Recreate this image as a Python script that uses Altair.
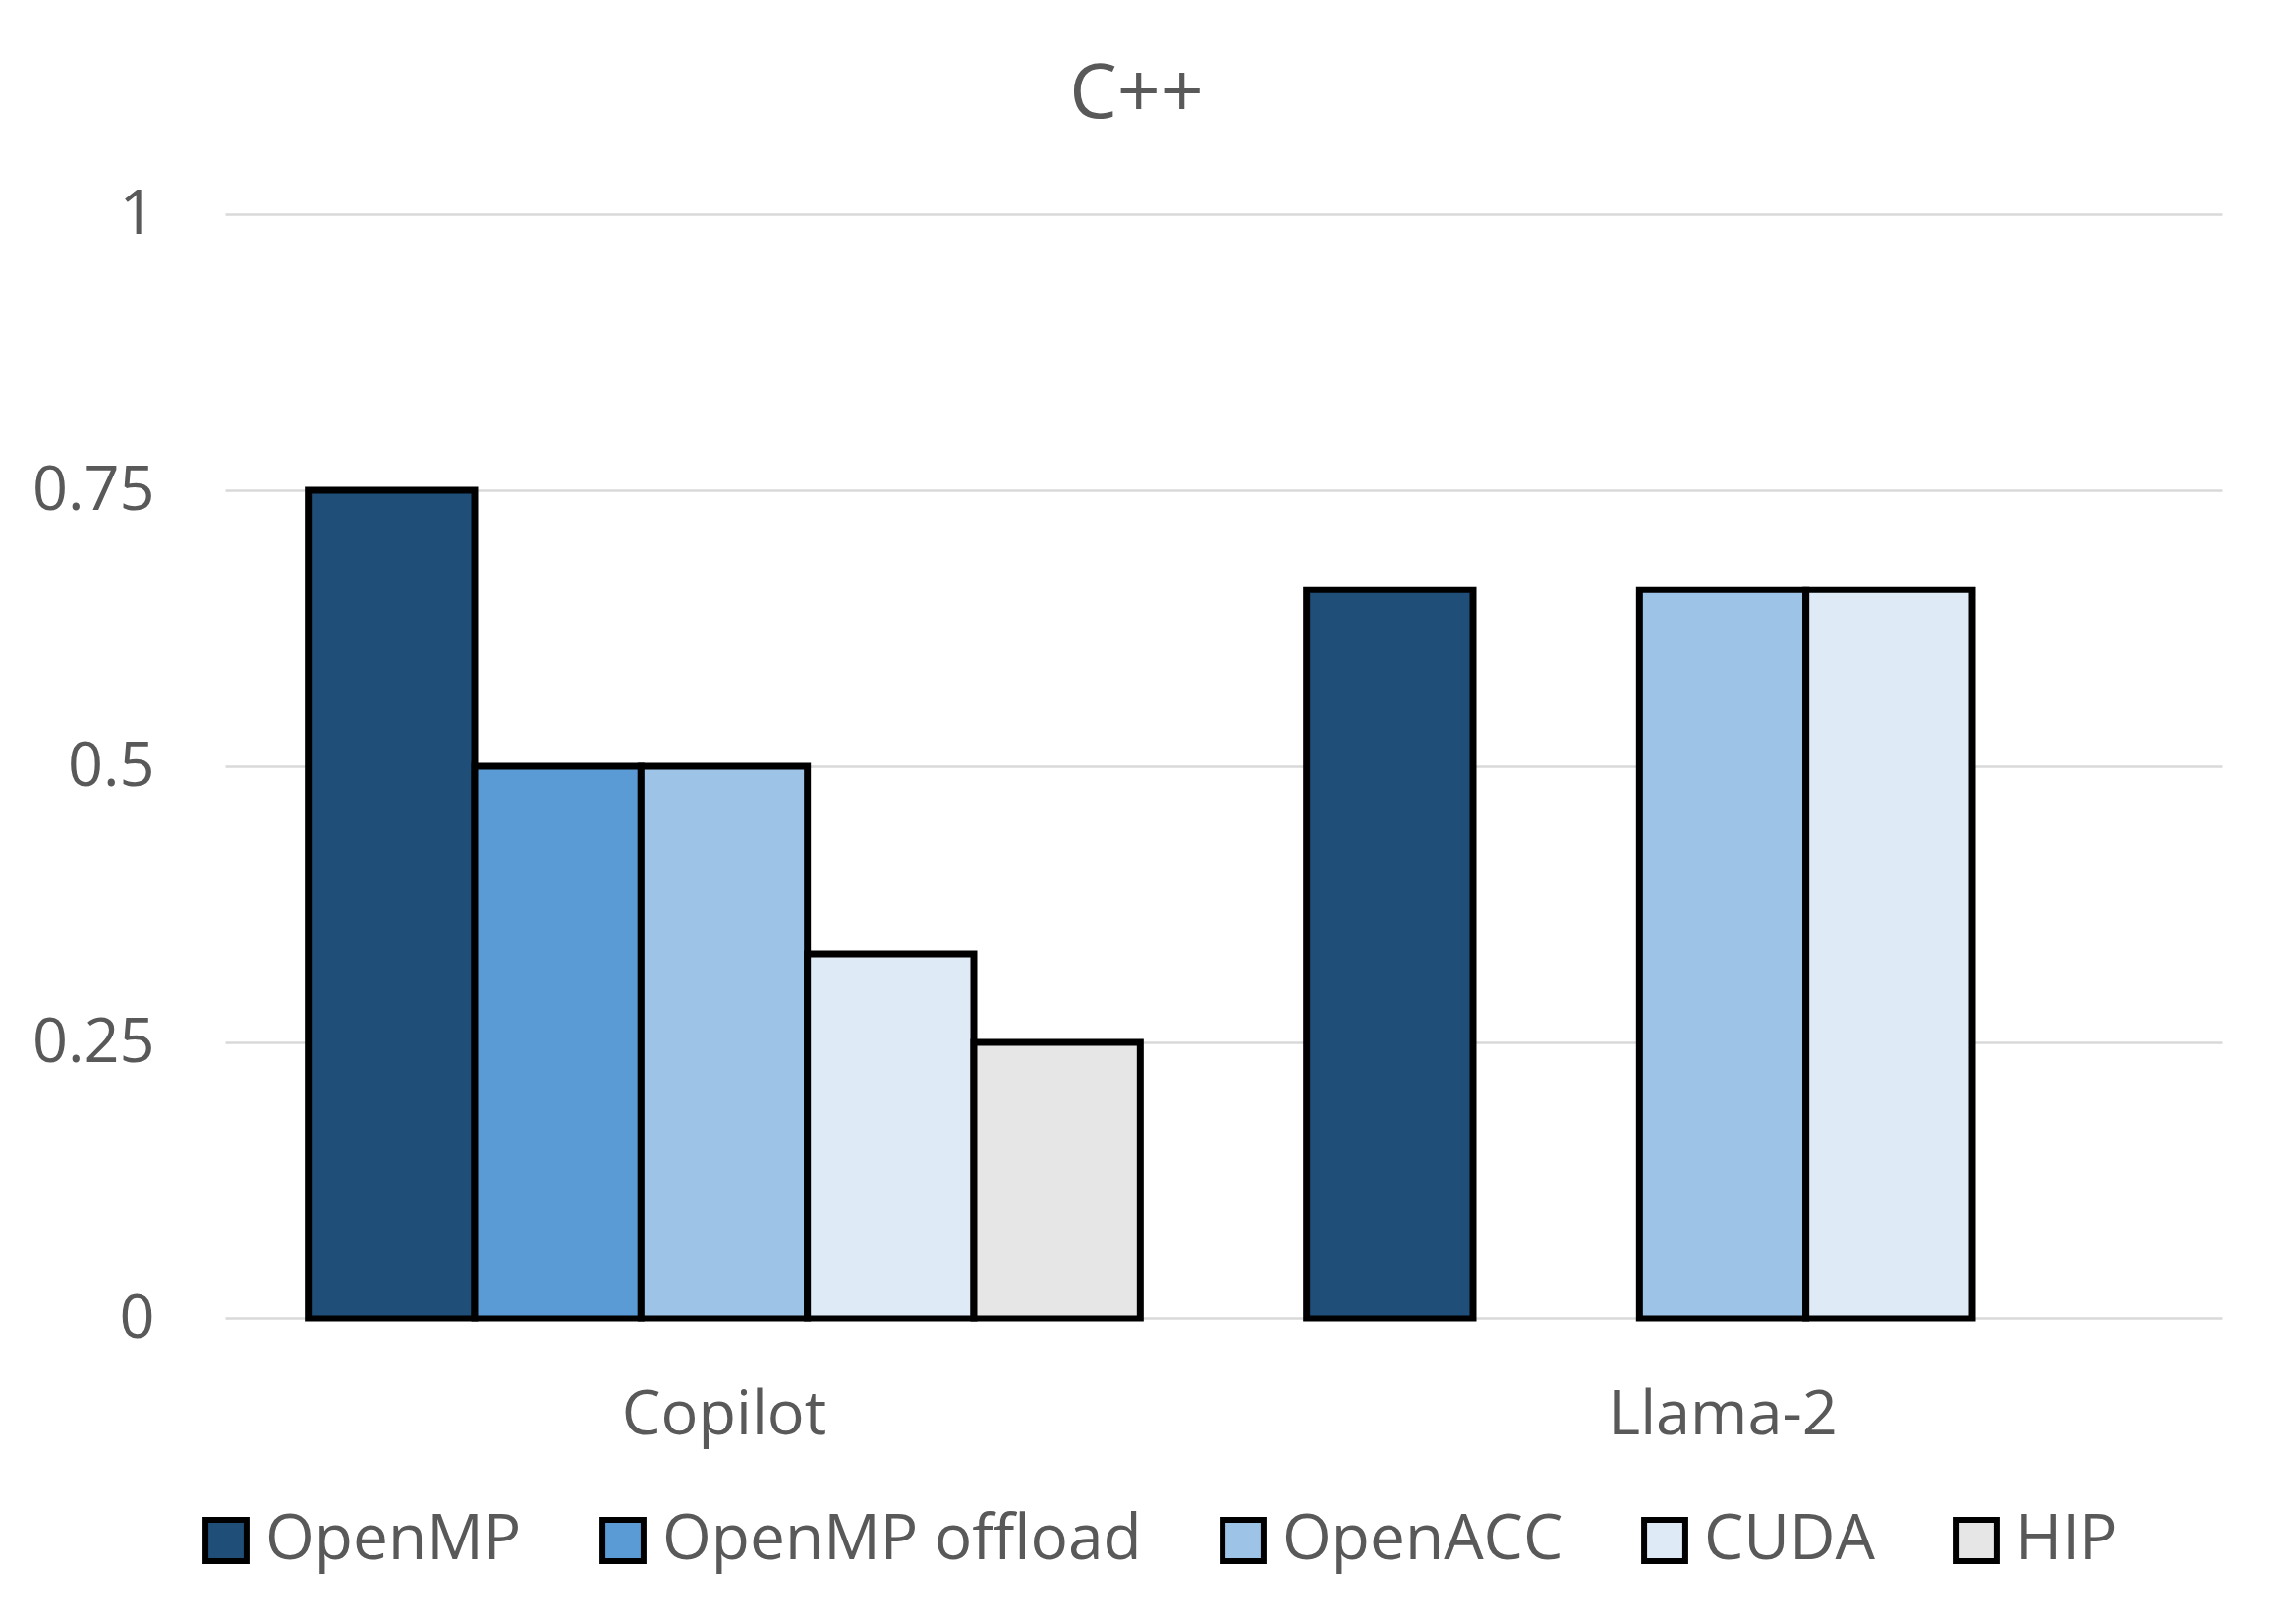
import altair as alt
import pandas as pd

# ---- data ----
models = ["Copilot", "Copilot", "Copilot", "Copilot", "Copilot",
          "Llama-2", "Llama-2", "Llama-2"]
frameworks = ["OpenMP", "OpenMP offload", "OpenACC", "CUDA", "HIP",
              "OpenMP", "OpenACC", "CUDA"]
values = [0.75, 0.5, 0.5, 0.33, 0.25,
          0.66, 0.66, 0.66]

model_order = ["Copilot", "Llama-2"]
framework_order = ["OpenMP", "OpenMP offload", "OpenACC", "CUDA", "HIP"]
framework_colors = ["#1F4E79", "#5B9BD5", "#9DC3E6", "#DEEBF7", "#E7E6E6"]
y_ticks = [0, 0.25, 0.5, 0.75, 1]

df = pd.DataFrame({"model": models, "framework": frameworks, "value": values})

FONT = "Open Sans"
TXT = "#595959"

chart = alt.Chart(df).mark_bar(stroke="black", strokeWidth=7).encode(
    x=alt.X(
        "model:N",
        sort=model_order,
        scale=alt.Scale(domain=model_order, paddingInner=1 / 6, paddingOuter=1 / 12),
        axis=alt.Axis(title=None, labelAngle=0, ticks=False, tickSize=0, domain=False,
                      grid=False, labelFontSize=63, labelPadding=67, labelLimit=0,
                      labelColor=TXT, labelFont=FONT),
    ),
    xOffset=alt.XOffset(
        "framework:N",
        sort=framework_order,
        scale=alt.Scale(domain=framework_order, paddingInner=0, paddingOuter=0),
    ),
    y=alt.Y(
        "value:Q",
        scale=alt.Scale(domain=[0, 1]),
        axis=alt.Axis(title=None, values=y_ticks, labelExpr="toString(datum.value)",
                      ticks=False, domain=False,
                      grid=True, gridColor="#D9D9D9", gridWidth=2.5,
                      labelFontSize=63, labelPadding=72, labelColor=TXT, labelFont=FONT),
    ),
    color=alt.Color(
        "framework:N",
        sort=framework_order,
        scale=alt.Scale(domain=framework_order, range=framework_colors),
        legend=alt.Legend(title=None, orient="none", legendX=-31, legendY=1318,
                          direction="horizontal", symbolType="square", symbolSize=1750,
                          symbolStrokeColor="black", symbolStrokeWidth=6, symbolOpacity=1,
                          labelFontSize=64, labelOffset=8, columnPadding=70, padding=0,
                          labelLimit=0, labelColor=TXT, labelFont=FONT),
    ),
).properties(
    width=2032,
    height=1124,
    background="white",
    title=alt.TitleParams("C++", fontSize=77, font=FONT, color=TXT, fontWeight="normal",
                          anchor="middle", frame="group", dx=-88.5, dy=76, offset=66,
                          baseline="alphabetic"),
    autosize=alt.AutoSizeParams(type="none"),
    padding={"left": 221, "top": 210, "right": 30, "bottom": 280},
).configure_view(stroke="transparent", strokeWidth=0)

chart.save("out.html", embed_options={"renderer": "svg", "actions": False})
